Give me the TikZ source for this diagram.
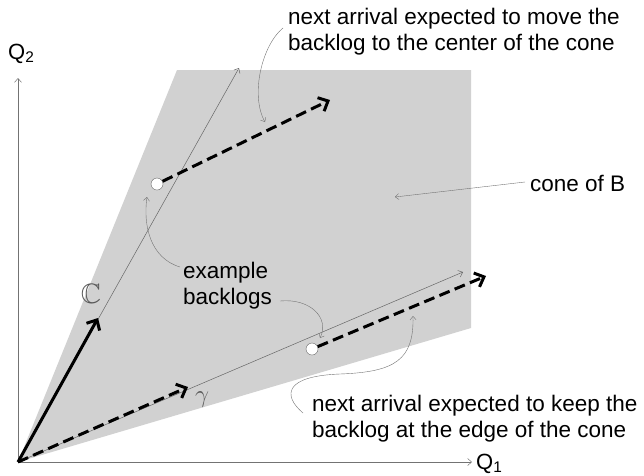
\documentclass[tikz,border=0pt]{standalone}
\usepackage{amssymb}
\usepackage{fontspec}
\setmainfont{Liberation Sans}
\usetikzlibrary{arrows.meta}

\begin{document}
\begin{tikzpicture}[x = 1pt, y = -1pt,
        axis/.style = {draw = black!55, line width = 0.5pt, -{Straight Barb[length = 4pt, width = 7pt]}},
        thinvec/.style = {draw = black!60, line width = 0.5pt, -{Straight Barb[length = 4pt, width = 7pt]}},
        bigvec/.style = {line width = 3pt, -{Straight Barb[length = 8pt, width = 15pt]}},
        nextvec/.style = {bigvec, dash pattern = on 11pt off 5.5pt},
        pointer/.style = {draw = black!55, line width = 0.4pt, -{Straight Barb[length = 3.5pt, width = 6pt]}},
        backlog/.style = {circle, draw = black!60, fill = white, minimum size = 12pt, inner sep = 0pt},
        caption/.style = {font = \fontsize{22.5}{26}\selectfont, align = left, inner sep = 0pt, anchor = north west},
        vlabel/.style = {text = black!65, font = \fontsize{28}{28}\selectfont, inner sep = 0pt}]
        \useasboundingbox (0, 0) rectangle (644, 475);
        % cone of B
        \fill[black!18] (18, 462) -- (177, 70) -- (471, 70) -- (471, 328) -- cycle;
        \coordinate (O) at (18, 462);
        \coordinate (qtwotip) at (18, 78);
        \coordinate (qonetip) at (472, 462);
        \coordinate (ctip) at (239, 68);
        \coordinate (cvec) at (98, 318);
        \coordinate (gtip) at (463, 272);
        \coordinate (gvec) at (188, 387);
        \draw[axis] (O) -- (qtwotip);
        \draw[axis] (O) -- (qonetip);
        \node[anchor = base west, inner sep = 0pt, font = \fontsize{22}{22}\selectfont] (qtwo) at (8, 59) {Q\textsubscript{2}};
        \node[anchor = base west, inner sep = 0pt, font = \fontsize{22}{22}\selectfont] (qone) at (476, 469) {Q\textsubscript{1}};
        \draw[thinvec] (O) -- (ctip);
        \draw[thinvec] (O) -- (gtip);
        \draw[bigvec] (O) -- (cvec);
        \draw[nextvec] (O) -- (gvec);
        \node[vlabel] (clabel) at (91, 294) {$\mathbb{C}$};
        \node[vlabel] (glabel) at (202, 400) {$\gamma$};
        % example backlogs
        \node[backlog] (bone) at (157, 184) {};
        \node[backlog] (btwo) at (312, 349) {};
        \coordinate (bonenext) at (330, 100);
        \coordinate (btwonext) at (486, 276);
        \draw[nextvec] (bone) -- (bonenext);
        \draw[nextvec] (btwo) -- (btwonext);
        % labels
        \node[caption] (movetext) at (288, 8) {next arrival expected to move the\\backlog to the center of the cone};
        \node[caption] (keeptext) at (312, 395) {next arrival expected to keep the\\backlog at the edge of the cone};
        \node[caption] (exampletext) at (183, 262) {example\\backlogs};
        \node[caption, anchor = base west] (conetext) at (530, 191) {cone of B};
        % pointers
        \coordinate (movefrom) at (283, 28);
        \coordinate (moveto) at (265, 122);
        \coordinate (exfromone) at (180, 267);
        \coordinate (extoone) at (147, 197);
        \coordinate (exfromtwo) at (280, 301);
        \coordinate (extotwo) at (320, 338);
        \coordinate (keepfrom) at (303, 413);
        \coordinate (keepto) at (413, 316);
        \coordinate (conefrom) at (525, 182);
        \coordinate (coneto) at (395, 197);
        \draw[pointer] (movefrom) .. controls (262, 45) and (250, 95) .. (moveto);
        \draw[pointer] (exfromone) .. controls (150, 258) and (143, 225) .. (extoone);
        \draw[pointer] (exfromtwo) .. controls (310, 298) and (330, 318) .. (extotwo);
        \draw[pointer] (keepfrom) .. controls (282, 395) and (285, 376) .. (340, 374) .. controls (395, 372) and (414, 360) .. (keepto);
        \draw[pointer] (conefrom) -- (coneto);
    \end{tikzpicture}
\end{document}
